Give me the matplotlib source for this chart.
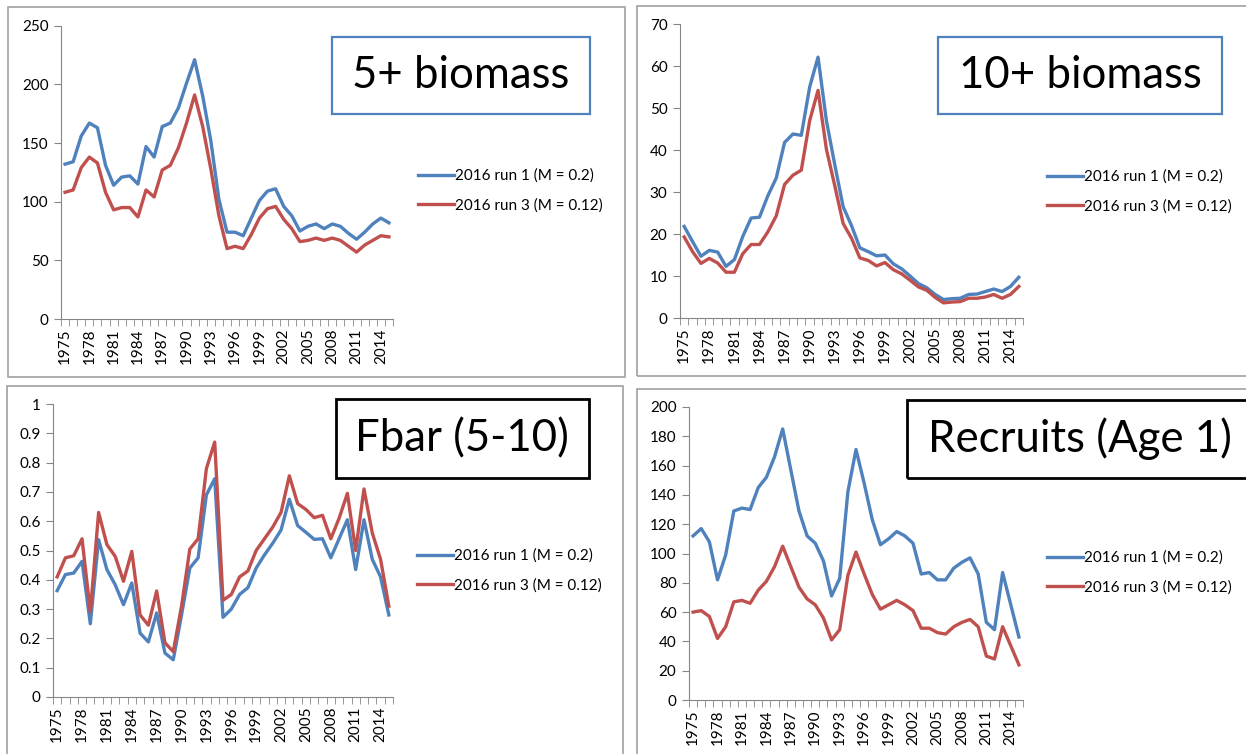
import matplotlib
matplotlib.use("Agg")
import matplotlib.pyplot as plt
from matplotlib.patches import Rectangle
import numpy as np

# ---------------------------------------------------------------- data
years = list(range(1975, 2016))
label_run1 = '2016 run 1 (M = 0.2)'
label_run3 = '2016 run 3 (M = 0.12)'

bio5_run1 = [132, 134, 156, 167, 163, 131, 114, 121, 122, 115, 147, 138, 164, 167, 180, 201,
             221, 190, 152, 102, 74, 74, 71, 86, 101, 109, 111, 96, 88, 75, 79, 81,
             77, 81, 79, 73, 68, 74, 81, 86, 82]
bio5_run3 = [108, 110, 129, 138, 133, 108, 93, 95, 95, 87, 110, 104, 127, 131, 146, 167,
             191, 164, 128, 88, 60, 62, 60, 72, 86, 94, 96, 85, 77, 66, 67, 69,
             67, 69, 67, 62, 57, 63, 67, 71, 70]

bio10_run1 = [21.8, 18.2, 14.7, 16.1, 15.7, 12.3, 13.9, 19.4, 23.8, 24.0, 29.1, 33.3, 41.8, 43.8,
              43.5, 55.0, 62.1, 47.0, 36.5, 26.5, 22.0, 16.7, 15.8, 14.8, 15.0, 12.9, 11.7, 10.0,
              8.2, 7.2, 5.6, 4.4, 4.6, 4.7, 5.6, 5.7, 6.3, 6.9, 6.3, 7.5, 9.7]
bio10_run3 = [19.3, 15.8, 13.0, 14.2, 13.1, 10.9, 10.9, 15.3, 17.5, 17.5, 20.5, 24.3, 31.8, 34.0,
              35.2, 47.0, 54.2, 40.2, 31.5, 22.5, 19.0, 14.3, 13.7, 12.4, 13.2, 11.5, 10.5, 9.0,
              7.4, 6.6, 4.9, 3.6, 3.8, 3.9, 4.7, 4.7, 5.0, 5.6, 4.7, 5.6, 7.5]

fbar_run1 = [0.363, 0.418, 0.423, 0.463, 0.25, 0.537, 0.435, 0.383, 0.315, 0.389, 0.218, 0.188,
             0.287, 0.150, 0.127, 0.28, 0.44, 0.475, 0.69, 0.745, 0.272, 0.30, 0.35, 0.373,
             0.44, 0.485, 0.525, 0.57, 0.675, 0.585, 0.562, 0.538, 0.54, 0.475, 0.54, 0.605,
             0.435, 0.605, 0.47, 0.41, 0.28]
fbar_run3 = [0.41, 0.475, 0.482, 0.54, 0.29, 0.63, 0.52, 0.48, 0.395, 0.497, 0.28, 0.245,
             0.362, 0.185, 0.155, 0.31, 0.505, 0.54, 0.78, 0.87, 0.33, 0.35, 0.41, 0.43,
             0.50, 0.54, 0.58, 0.63, 0.755, 0.66, 0.64, 0.612, 0.62, 0.54, 0.61, 0.695,
             0.50, 0.71, 0.56, 0.47, 0.31]

rec_run1 = [112, 117, 108, 82, 99, 129, 131, 130, 145, 152, 166, 185, 157, 129, 112, 107,
            95, 71, 83, 142, 171, 148, 123, 106, 110, 115, 112, 107, 86, 87, 82, 82,
            90, 94, 97, 86, 53, 48, 87, 65, 43]
rec_run3 = [60, 61, 57, 42, 50, 67, 68, 66, 75, 81, 91, 105, 91, 77, 69, 65,
            56, 41, 48, 85, 101, 86, 72, 62, 65, 68, 65, 61, 49, 49, 46, 45,
            50, 53, 55, 50, 30, 28, 50, 37, 24]

# ---------------------------------------------------------------- style
W, H = 1246, 754
blue = '#4F81BD'
red = '#C0504D'
grey = '#868686'
plt.rcParams['font.family'] = ['Lato', 'DejaVu Sans']

fig = plt.figure(figsize=(W / 100, H / 100), dpi=100)


def px_rect(x0, y0, x1, y1):
    # pixel box (top-left origin) -> figure fraction [l, b, w, h]
    return [x0 / W, 1 - y1 / H, (x1 - x0) / W, (y1 - y0) / H]


def make_panel(ax_box, run1, run3, ymax, ystep, yfmt, frame, tbox, tcolor, title, tx, leg_xy):
    # outer chart frame
    fig.patches.append(Rectangle((frame[0] / W, 1 - frame[3] / H), (frame[2] - frame[0]) / W,
                                 (frame[3] - frame[1]) / H, transform=fig.transFigure,
                                 fill=False, edgecolor='#A0A0A0', lw=1.2))
    ax = fig.add_axes(px_rect(*ax_box))
    x = np.arange(len(years))
    ax.plot(x, run1, color=blue, lw=2.4, label=label_run1, solid_joinstyle='round')
    ax.plot(x, run3, color=red, lw=2.4, label=label_run3, solid_joinstyle='round')
    ax.set_xlim(-0.5, len(years) - 0.5)
    ax.set_ylim(0, ymax)
    ax.set_yticks(np.arange(0, ymax + ystep / 2, ystep))
    ax.set_yticklabels([yfmt(v) for v in np.arange(0, ymax + ystep / 2, ystep)])
    ax.set_xticks(x[::3])
    ax.set_xticklabels([str(y) for y in years[::3]], rotation=90)
    ax.set_xticks(np.arange(-0.5, len(years), 1), minor=True)
    ax.tick_params(axis='x', which='major', length=0, pad=7, labelsize=11)
    ax.tick_params(axis='x', which='minor', length=5, color=grey, direction='out')
    ax.tick_params(axis='y', length=5, color=grey, labelsize=11, pad=4)
    for s in ['top', 'right']:
        ax.spines[s].set_visible(False)
    for s in ['left', 'bottom']:
        ax.spines[s].set_color(grey)
    ax.patch.set_alpha(0)
    # title box
    fig.patches.append(Rectangle((tbox[0] / W, 1 - tbox[3] / H), (tbox[2] - tbox[0]) / W,
                                 (tbox[3] - tbox[1]) / H, transform=fig.transFigure,
                                 fill=False, edgecolor=tcolor, lw=1.6 if tcolor != 'black' else 2.0))
    fig.text(tx / W, 1 - (tbox[1] + tbox[3]) / 2 / H, title, ha='center', va='center',
             fontsize=31.5, color='black')
    ax.legend(loc='center left', bbox_to_anchor=(leg_xy[0] / W, 1 - leg_xy[1] / H),
              bbox_transform=fig.transFigure, frameon=False, fontsize=11,
              handlelength=2.35, handletextpad=0.1, labelspacing=1.0, borderpad=0,
              borderaxespad=0)
    return ax


make_panel((61, 25.7, 393, 319), bio5_run1, bio5_run3, 250, 50, lambda v: '%d' % v,
           (8, 7, 625, 377), (332, 37, 590, 114), blue, '5+ biomass', 461, (418, 190.5))
make_panel((680, 24, 1023, 318), bio10_run1, bio10_run3, 70, 10, lambda v: '%d' % v,
           (637, 6, 1252, 376), (938, 37, 1222, 114), blue, '10+ biomass', 1080, (1047, 191.5))
make_panel((53, 404, 393, 697), fbar_run1, fbar_run3, 1.0, 0.1, lambda v: '%g' % round(v, 1),
           (7, 386, 623, 760), (336, 399, 589, 478), 'black', 'Fbar (5-10)', 462, (417, 570.5))
make_panel((689, 407, 1023, 700), rec_run1, rec_run3, 200, 20, lambda v: '%d' % v,
           (637, 389, 1252, 760), (907, 400, 1252, 478), 'black', 'Recruits (Age 1)', 1080, (1047, 572.5))

fig.savefig('out.png', dpi=100)
